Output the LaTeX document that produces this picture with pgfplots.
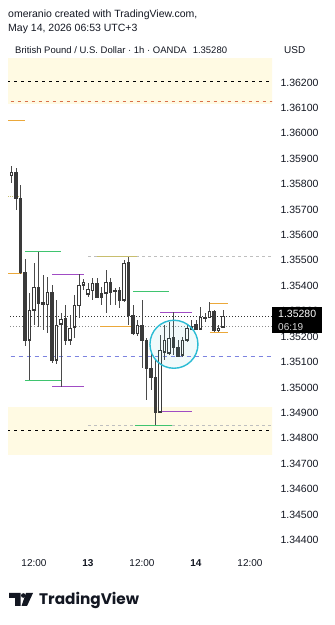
\documentclass[border=0pt]{standalone}
\usepackage{fontspec}
\setmainfont{Liberation Sans}
\newfontfamily\logofont{Poppins}
\usepackage{pgfplots}
\usepackage{pgfplotstable}
\pgfplotsset{compat=1.18}
\definecolor{zone}{HTML}{FFFAE3}
\definecolor{tvgreen}{HTML}{3FC46F}
\definecolor{tvpurple}{HTML}{A04CC4}
\definecolor{tvorange}{HTML}{EBA83A}
\definecolor{tvolive}{HTML}{C8BE6E}
\definecolor{tvblue}{HTML}{7C83E0}
\definecolor{tvcyan}{HTML}{2BBCD4}
\definecolor{tvred}{HTML}{D9704A}
\definecolor{txt}{HTML}{131722}
\definecolor{bear}{HTML}{3A3A3A}
\definecolor{wick}{HTML}{4A4A4A}

\pgfplotstableread{
h o hi lo c
7 1.35834 1.35870 1.35803 1.35846
11 1.35186 1.35371 1.35029 1.35304
12 1.35304 1.35489 1.35245 1.35394
15 1.35327 1.35433 1.35213 1.35375
17 1.35107 1.35343 1.35091 1.35245
18 1.35249 1.35292 1.35001 1.35268
20 1.35186 1.35284 1.35166 1.35233
21 1.35237 1.35363 1.35194 1.35323
22 1.35323 1.35445 1.35272 1.35402
23 1.35402 1.35426 1.35382 1.35414
24 1.35367 1.35410 1.35355 1.35386
25 1.35382 1.35430 1.35343 1.35410
28 1.35371 1.35461 1.35292 1.35414
32 1.35343 1.35500 1.35335 1.35489
35 1.35213 1.35264 1.35202 1.35245
40 1.34903 1.35206 1.34903 1.35147
41 1.35139 1.35245 1.35107 1.35186
42 1.35135 1.35257 1.35127 1.35194
45 1.35127 1.35198 1.35119 1.35186
46 1.35186 1.35245 1.35178 1.35233
47 1.35229 1.35264 1.35225 1.35241
49 1.35229 1.35316 1.35225 1.35276
51 1.35276 1.35335 1.35272 1.35300
53 1.35225 1.35245 1.35217 1.35233
54 1.35237 1.35304 1.35237 1.35280
}\bull

\pgfplotstableread{
h o hi lo c
8 1.35846 1.35862 1.35697 1.35744
9 1.35744 1.35795 1.35445 1.35453
10 1.35453 1.35504 1.35162 1.35186
13 1.35394 1.35532 1.35237 1.35331
14 1.35335 1.35441 1.35225 1.35327
16 1.35375 1.35402 1.35095 1.35107
19 1.35272 1.35323 1.35166 1.35186
26 1.35410 1.35430 1.35351 1.35355
27 1.35371 1.35394 1.35323 1.35355
29 1.35414 1.35430 1.35323 1.35375
30 1.35382 1.35390 1.35323 1.35376
31 1.35382 1.35394 1.35312 1.35343
33 1.35492 1.35512 1.35245 1.35284
34 1.35284 1.35323 1.35206 1.35213
36 1.35245 1.35343 1.35076 1.35186
37 1.35186 1.35194 1.34950 1.35076
38 1.35076 1.35135 1.34989 1.35040
39 1.35040 1.35107 1.34852 1.34903
43 1.35198 1.35296 1.35127 1.35158
44 1.35158 1.35186 1.35119 1.35123
48 1.35249 1.35264 1.35225 1.35229
50 1.35276 1.35292 1.35257 1.35272
52 1.35300 1.35304 1.35217 1.35225
}\bear

\begin{document}
\begin{tikzpicture}[x=1pt,y=1pt]
\fill[white] (0,0) rectangle (335,625);
\path[use as bounding box] (0,0) rectangle (335,625);
\begin{axis}[
  at={(8pt,72pt)}, anchor=south west,
  scale only axis, width=264pt, height=495pt,
  xmin=6.222, xmax=64.889,
  ymin=1.34349, ymax=1.36296,
  axis line style={draw=none},
  tick style={draw=none},
  xtick={12,24,36,48,60},
  xticklabels={12:00,\textbf{13},12:00,\textbf{14},12:00},
  xticklabel style={font=\fontsize{10}{12}\selectfont, text=txt, yshift=-3pt},
  ytick={1.344,1.345,1.346,1.347,1.348,1.349,1.350,1.351,1.352,1.353,1.354,1.355,1.356,1.357,1.358,1.359,1.360,1.361,1.362},
  yticklabels={1.34400,1.34500,1.34600,1.34700,1.34800,1.34900,1.35000,1.35100,1.35200,1.35300,1.35400,1.35500,1.35600,1.35700,1.35800,1.35900,1.36000,1.36100,1.36200},
  yticklabel pos=right,
  yticklabel style={font=\fontsize{10.5}{12}\selectfont, text=txt, xshift=5pt},
  hl/.style={forget plot, mark=none, line width=1pt},
]
% zones
\addplot[forget plot, fill=zone, draw=none] coordinates {(6,1.36116) (66,1.36116) (66,1.3635) (6,1.3635)} -- cycle;
\addplot[forget plot, fill=zone, draw=none] coordinates {(6,1.34734) (66,1.34734) (66,1.34922) (6,1.34922)} -- cycle;
% dashed / dotted full lines
\addplot[hl, black, line width=0.7pt, dash pattern=on 3pt off 4pt] coordinates {(6,1.36203) (66,1.36203)};
\addplot[hl, tvred, line width=0.7pt, dash pattern=on 3pt off 4pt] coordinates {(6.8,1.36124) (66,1.36124)};
\addplot[hl, black, line width=0.7pt, dash pattern=on 3pt off 4pt] coordinates {(6,1.34832) (66,1.34832)};
\addplot[hl, gray!50, line width=0.8pt, dash pattern=on 3pt off 3pt] coordinates {(24,1.34852) (66,1.34852)};
\addplot[hl, gray!50, line width=0.8pt, dash pattern=on 3pt off 3pt] coordinates {(24,1.35516) (66,1.35516)};
\addplot[hl, tvblue, line width=0.8pt, dash pattern=on 4pt off 4pt] coordinates {(6.8,1.35123) (66,1.35123)};
\addplot[hl, black!80, line width=0.6pt, dash pattern=on 1pt off 2pt] coordinates {(6,1.35280) (66,1.35280)};
\addplot[hl, black!45, line width=0.6pt, dash pattern=on 1pt off 2pt] coordinates {(6,1.35241) (66,1.35241)};
% colored level lines
\addplot[hl, tvorange] coordinates {(6.2,1.36051) (10,1.36051)};
\addplot[hl, tvolive, dash pattern=on 1pt off 1pt] coordinates {(6.2,1.35752) (9.3,1.35752)};
\addplot[hl, tvorange] coordinates {(6.2,1.35449) (9.3,1.35449)};
\addplot[hl, tvgreen] coordinates {(10,1.35536) (18,1.35536)};
\addplot[hl, tvgreen] coordinates {(10,1.35029) (18,1.35029)};
\addplot[hl, tvpurple] coordinates {(16,1.35445) (23,1.35445)};
\addplot[hl, tvpurple] coordinates {(16,1.35002) (23,1.35002)};
\addplot[hl, tvolive] coordinates {(26,1.35516) (34.8,1.35516)};
\addplot[hl, tvorange] coordinates {(26.7,1.35241) (34,1.35241)};
\addplot[hl, tvgreen] coordinates {(34,1.35378) (42,1.35378)};
\addplot[hl, tvgreen] coordinates {(34.4,1.34852) (42.7,1.34852)};
\addplot[hl, tvpurple] coordinates {(40,1.35296) (47,1.35296)};
\addplot[hl, tvpurple] coordinates {(40.4,1.34907) (47,1.34907)};
\addplot[hl, tvorange] coordinates {(51.1,1.35332) (55.1,1.35332)};
\addplot[hl, tvorange] coordinates {(51.1,1.35215) (55.1,1.35215)};
% wicks
\addplot[forget plot, draw=none, mark=none, error bars/.cd, y dir=minus, y explicit, error mark=none,
  error bar style={draw=wick, line width=0.8pt, solid}]
  table[x=h, y=hi, y error minus expr=\thisrow{hi}-\thisrow{lo}] {\bull};
\addplot[forget plot, draw=none, mark=none, error bars/.cd, y dir=minus, y explicit, error mark=none,
  error bar style={draw=wick, line width=0.8pt, solid}]
  table[x=h, y=hi, y error minus expr=\thisrow{hi}-\thisrow{lo}] {\bear};
% bear bodies
\addplot[forget plot, draw=none, mark=none, error bars/.cd, y dir=minus, y explicit, error mark=none,
  error bar style={draw=bear, line width=3.3pt, solid}]
  table[x=h, y=o, y error minus expr=\thisrow{o}-\thisrow{c}+0.00002] {\bear};
% bull bodies
\addplot[forget plot, draw=none, mark=none, error bars/.cd, y dir=minus, y explicit, error mark=none,
  error bar style={draw=bear, line width=3.3pt, solid}]
  table[x=h, y=c, y error minus expr=\thisrow{c}-\thisrow{o}+0.00002] {\bull};
\addplot[forget plot, draw=none, mark=none, error bars/.cd, y dir=minus, y explicit, error mark=none,
  error bar style={draw=white, line width=1.7pt, solid, shorten >=0.8pt, shorten <=0.8pt}]
  table[x=h, y=c, y error minus expr=\thisrow{c}-\thisrow{o}] {\bull};
% circle
\addplot[forget plot, only marks, mark=*, mark size=24pt,
  mark options={draw=tvcyan, fill=tvcyan, fill opacity=0.07, line width=1.4pt}]
  coordinates {(43.1,1.35170)};
\end{axis}
% price label
\fill[black] (272,292) rectangle (322,318);
\node[anchor=west, inner sep=0, text=white, font=\fontsize{10.5}{12}\selectfont] at (278,311) {1.35280};
\node[anchor=west, inner sep=0, text=white!85!black, font=\fontsize{10}{12}\selectfont] at (278,298) {06:19};
% header
\node[anchor=west, inner sep=0, text=txt, font=\fontsize{10.5}{12}\selectfont] at (8,610) {omeranio created with TradingView.com,};
\node[anchor=west, inner sep=0, text=txt, font=\fontsize{10.5}{12}\selectfont] at (8,596) {May 14, 2026 06:53 UTC+3};
\node[anchor=west, inner sep=0, text=txt, font=\fontsize{9.5}{12}\selectfont] at (15,575) {British Pound / U.S. Dollar · 1h · OANDA\hspace{6pt}1.35280};
\node[anchor=west, inner sep=0, text=txt, font=\fontsize{10}{12}\selectfont] at (284,575) {USD};
% logo
\fill[txt] (9,32) -- (20.5,32) -- (20.5,19) -- (15,19) -- (15,27) -- (9,27) -- cycle;
\fill[txt] (23.3,29.5) circle (2.3);
\fill[txt] (26,32) -- (33,32) -- (27,19) -- (21.5,19) -- cycle;
\node[anchor=base west, inner sep=0, text=txt, font=\logofont\bfseries\fontsize{15.3}{18}\selectfont] at (39,20) {TradingView};
\end{tikzpicture}
\end{document}
